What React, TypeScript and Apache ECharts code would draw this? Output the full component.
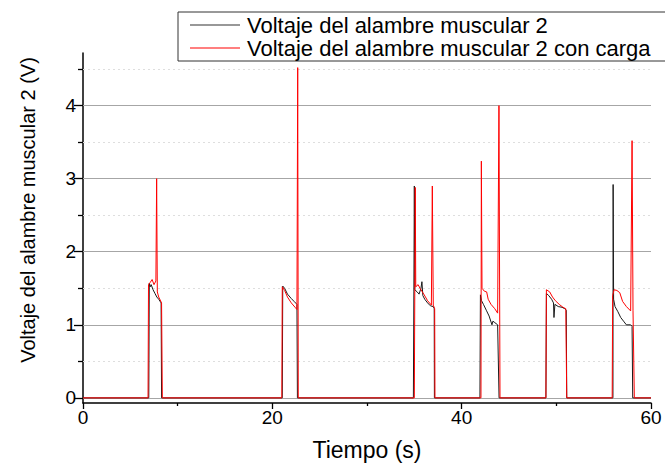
import React, { useEffect, useRef } from "react";
import * as echarts from "echarts";

// Muscle wire voltage, no load (time in s, voltage in V)
const plainTime = [
  0, 6.95, 7.0, 7.1, 7.2, 7.4, 7.6, 7.8, 8.0, 8.25, 8.3,
  21.05, 21.1, 21.3, 21.6, 22.0, 22.3, 22.6, 22.65,
  34.9, 34.95, 35.0, 35.05, 35.3, 35.5, 35.7, 35.8, 35.9, 36.1, 36.4, 36.7, 37.0, 37.1, 37.12,
  41.93, 41.98, 42.1, 42.3, 42.6, 42.9, 43.2, 43.3, 43.5, 43.8, 43.95,
  48.9, 48.95, 49.2, 49.5, 49.7, 49.75, 49.85, 50.2, 50.6, 50.9, 51.05, 51.1,
  55.98, 56.0, 56.05, 56.2, 56.5, 56.8, 57.1, 57.4, 57.85, 58.0, 58.07, 60,
];
const plainVolt = [
  0, 0, 1.57, 1.52, 1.55, 1.48, 1.43, 1.38, 1.35, 1.3, 0,
  0, 1.53, 1.5, 1.42, 1.36, 1.32, 1.28, 0,
  0, 1.45, 2.9, 1.48, 1.45, 1.42, 1.5, 1.59, 1.4, 1.35, 1.3, 1.26, 1.25, 1.22, 0,
  0, 1.41, 1.33, 1.28, 1.2, 1.12, 1.0, 1.05, 1.03, 1.0, 0,
  0, 1.43, 1.4, 1.35, 1.3, 1.1, 1.28, 1.25, 1.24, 1.22, 1.2, 0,
  0, 2.92, 1.35, 1.25, 1.18, 1.1, 1.05, 1.0, 1.0, 0.98, 0, 0,
];

// Muscle wire voltage with load
const loadTime = [
  0, 6.87, 6.92, 7.1, 7.3, 7.5, 7.7, 7.78, 7.85, 8.0, 8.3, 8.38,
  21.0, 21.05, 21.3, 21.6, 22.0, 22.4, 22.6, 22.68, 22.74,
  35.0, 35.05, 35.1, 35.15, 35.4, 35.6, 36.0, 36.4, 36.8, 36.9, 37.0, 37.15, 37.18,
  42.04, 42.08, 42.15, 42.4, 42.64, 42.8, 43.1, 43.5, 43.8, 43.94, 44.05,
  48.9, 48.95, 49.3, 49.6, 49.9, 50.3, 50.7, 51.0, 51.1,
  55.9, 55.95, 56.1, 56.4, 56.7, 57.0, 57.4, 57.85, 58.0, 58.1, 58.24, 60,
];
const loadVolt = [
  0, 0, 1.55, 1.58, 1.62, 1.55, 1.6, 3.0, 1.45, 1.38, 1.3, 0,
  0, 1.52, 1.47, 1.38, 1.3, 1.24, 1.21, 4.52, 0,
  0, 1.5, 2.88, 1.52, 1.55, 1.5, 1.42, 1.33, 1.27, 2.9, 1.27, 1.22, 0,
  0, 3.24, 1.5, 1.46, 1.45, 1.35, 1.28, 1.22, 1.16, 4.0, 0,
  0, 1.48, 1.45, 1.38, 1.33, 1.28, 1.24, 1.22, 0,
  0, 1.4, 1.48, 1.47, 1.44, 1.32, 1.25, 1.19, 3.52, 1.2, 0, 0,
];

const seriesNames = [
  "Voltaje del alambre muscular 2",
  "Voltaje del alambre muscular 2 con carga",
];
const yMajor = [0, 1, 2, 3, 4];
const yMinor = [0.5, 1.5, 2.5, 3.5, 4.5];

const FONT = "'Liberation Sans', Arial, sans-serif";
const zip = (t: number[], v: number[]) => t.map((x, i) => [x, v[i]]);

export default function App() {
  const ref = useRef<HTMLDivElement>(null);

  useEffect(() => {
    if (!ref.current) return;
    const chart = echarts.init(ref.current, undefined, { renderer: "svg" });
    const axisColor = "#000";
    chart.setOption({
      animation: false,
      backgroundColor: "#fff",
      textStyle: { fontFamily: FONT },
      grid: { left: 83, top: 53, width: 568, height: 353 },
      legend: {
        orient: "vertical",
        left: 178,
        top: 12,
        padding: [2, 30, 2, 12],
        itemGap: 1,
        itemWidth: 50,
        itemHeight: 1,
        borderColor: "#333",
        borderWidth: 1,
        textStyle: { fontSize: 22, color: "#000", fontFamily: FONT, padding: [0, 0, 0, 2] },
        data: [
          { name: seriesNames[0], icon: "rect", itemStyle: { color: "#333" } },
          { name: seriesNames[1], icon: "rect", itemStyle: { color: "#ff0000" } },
        ],
      },
      xAxis: {
        type: "value",
        min: 0,
        max: 60,
        interval: 20,
        name: "Tiempo (s)",
        nameLocation: "middle",
        nameGap: 35,
        nameTextStyle: { fontSize: 23, color: "#000", fontFamily: FONT },
        axisLine: { onZero: false, lineStyle: { color: axisColor, width: 1.5 } },
        axisTick: { length: 6, lineStyle: { color: axisColor, width: 1.3 } },
        minorTick: { show: true, splitNumber: 2, length: 3, lineStyle: { color: axisColor, width: 1.3 } },
        axisLabel: { fontSize: 19, color: "#000", margin: 5, fontFamily: FONT },
        splitLine: { show: false },
      },
      yAxis: [
        {
          type: "value",
          min: -0.07,
          max: 4.72,
          position: "left",
          name: "Voltaje del alambre muscular 2 (V)",
          nameLocation: "middle",
          nameGap: 45,
          nameTextStyle: { fontSize: 20, color: "#000", fontFamily: FONT, padding: [0, 0, 0, 36] },
          axisLine: { show: true, onZero: false, lineStyle: { color: axisColor, width: 1.5 } },
          axisTick: { show: true, customValues: yMajor, length: 9, lineStyle: { color: axisColor, width: 1.3 } },
          axisLabel: { customValues: yMajor, fontSize: 19, color: "#000", margin: 7, fontFamily: FONT },
          splitLine: { show: false },
        },
        {
          type: "value",
          min: -0.07,
          max: 4.72,
          position: "left",
          axisLine: { show: false },
          axisTick: { show: true, customValues: yMinor, length: 5, lineStyle: { color: axisColor, width: 1.3 } },
          axisLabel: { show: false },
          splitLine: { show: false },
        },
      ],
      series: [
        {
          name: "grid",
          type: "line",
          data: [],
          silent: true,
          markLine: {
            z: 1,
            silent: true,
            symbol: ["none", "none"],
            label: { show: false },
            data: [
              ...yMajor.map((v) => ({ yAxis: v, lineStyle: { color: "#a6a6a6", type: "solid", width: 1 } })),
              ...yMinor.map((v) => ({ yAxis: v, lineStyle: { color: "#dedede", type: [2, 3], width: 1 } })),
            ],
          },
        },
        {
          name: seriesNames[0],
          type: "line",
          z: 2,
          symbol: "none",
          lineStyle: { color: "#1a1a1a", width: 1 },
          itemStyle: { color: "#1a1a1a" },
          data: zip(plainTime, plainVolt),
        },
        {
          name: seriesNames[1],
          type: "line",
          z: 3,
          symbol: "none",
          lineStyle: { color: "#ff0000", width: 1 },
          itemStyle: { color: "#ff0000" },
          data: zip(loadTime, loadVolt),
        },
      ],
    });
    return () => chart.dispose();
  }, []);

  return (
    <div
      ref={ref}
      style={{ position: "fixed", left: 0, top: 0, width: 665, height: 466 }}
    />
  );
}
